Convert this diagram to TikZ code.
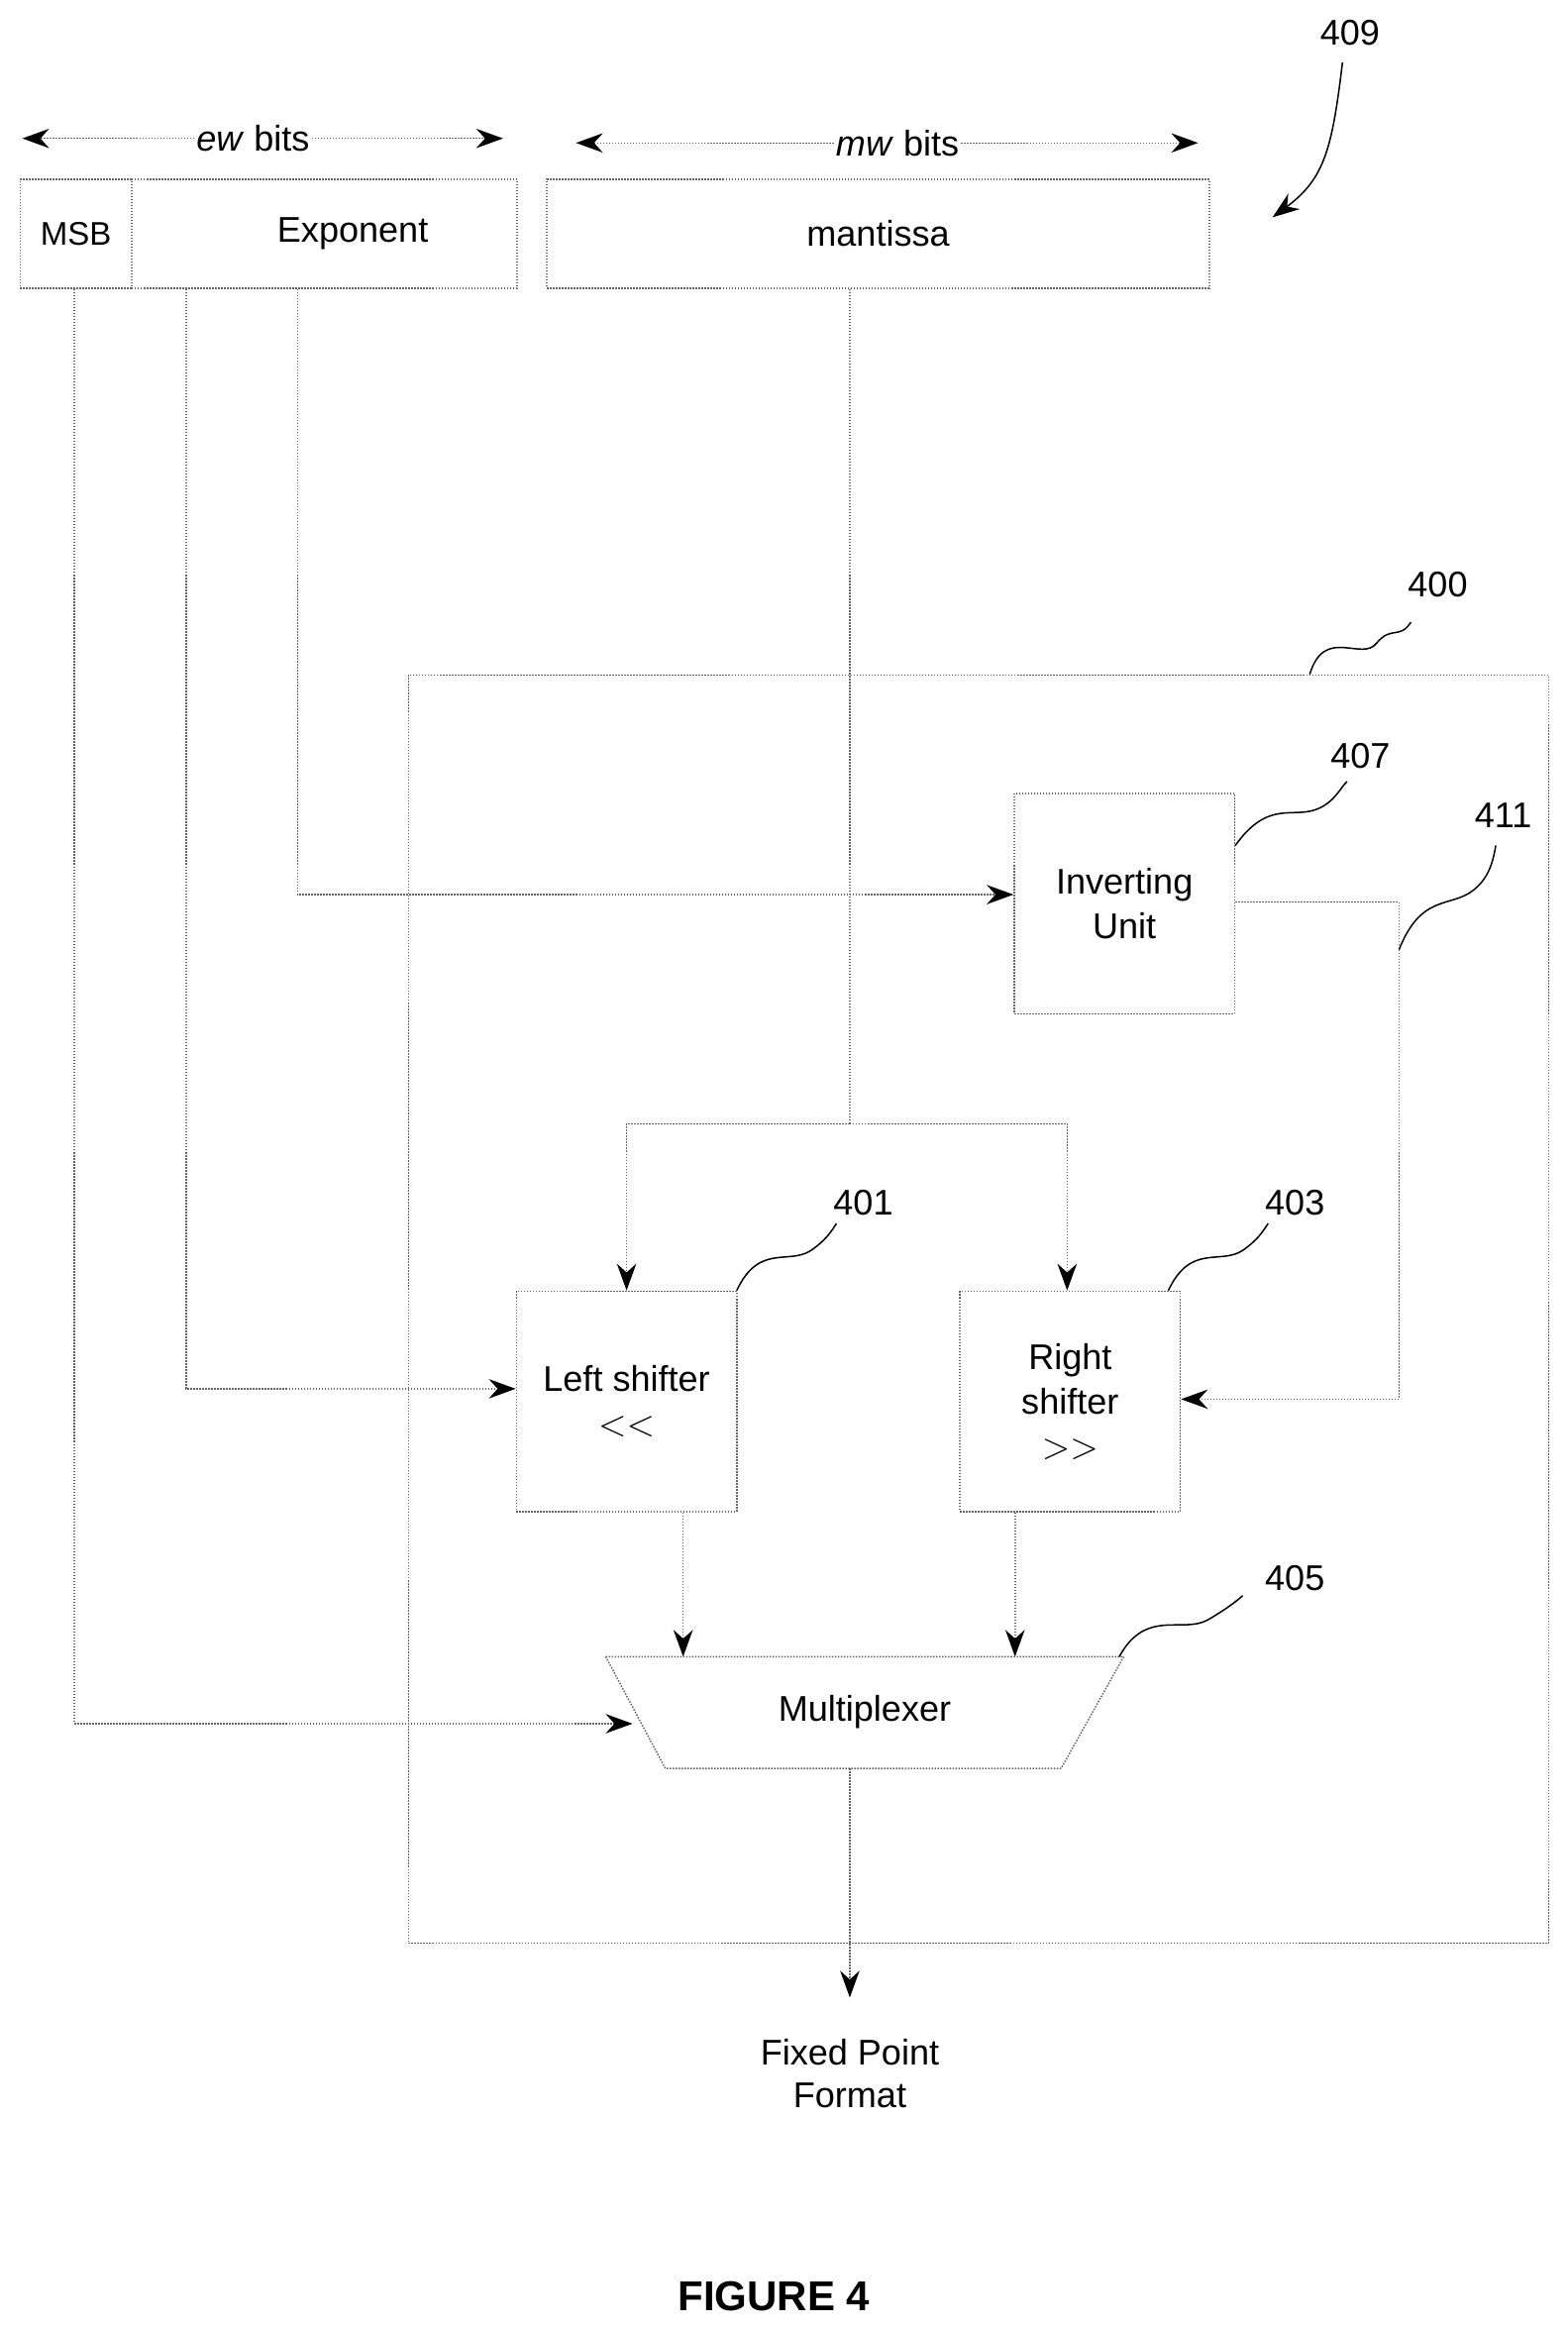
\documentclass[tikz,border=0pt]{standalone}
\usepackage{fontspec}
\setmainfont{Liberation Sans}
\usetikzlibrary{arrows.meta}
\tikzset{every picture/.style={line width=1pt}}
\tikzset{
  dot/.style={draw=black!60, densely dotted},
  blk/.style={dot, minimum width=148pt, minimum height=148pt, align=center, font=\fontsize{24}{30}\selectfont},
  arr/.style={dot, -{Stealth[length=18pt,width=13pt,black]}},
  wave/.style={draw=black, line width=1pt},
  lbl/.style={font=\fontsize{24}{28}\selectfont}
}
\begin{document}
\begin{tikzpicture}[x=1pt,y=1pt,yscale=-1]
\useasboundingbox (0,0) rectangle (1053,1564);

%bit fields
\node[dot, minimum width=75pt, minimum height=73pt, anchor=north west, font=\fontsize{22}{26}\selectfont] (msb) at (13,120) {MSB};
\node[dot, minimum width=259pt, minimum height=73pt, anchor=north west] (exp) at (88,120) {};
\node[lbl] (expt) at (237,157) {Exponent};
\node[dot, minimum width=445pt, minimum height=73pt, anchor=north west, lbl] (man) at (367,120) {mantissa};
\coordinate (ewl) at (15,93); \coordinate (ewr) at (338,93);
\coordinate (mwl) at (387,96); \coordinate (mwr) at (805,96);
\node[lbl, fill=white, inner sep=1pt] (ew) at (170,93) {\textit{ew} bits};
\node[lbl, fill=white, inner sep=1pt] (mw) at (603,96) {\textit{mw} bits};
\draw[arr] (ew) -- (ewl); \draw[arr] (ew) -- (ewr);
\draw[arr] (mw) -- (mwl); \draw[arr] (mw) -- (mwr);

%reference numerals
\node[lbl] (n409) at (907,22) {409};
\coordinate (t409) at (855,146);
\draw[wave, -{Stealth[length=18pt,width=13pt]}] (902,42) .. controls (895,100) and (890,120) .. (t409);

%converter block 400
\node[dot, minimum width=766pt, minimum height=852pt, anchor=north west] (conv) at (274,453) {};
\node[lbl] (n400) at (966,393) {400};
\draw[wave] (880,453) .. controls (890,420) and (915,445) .. (925,432) .. controls (935,420) and (940,430) .. (948,418);

%units
\node[blk] (inv) at (755.5,607) {Inverting\\Unit};
\node[blk] (lsh) at (421,941.5) {Left shifter\\$<<$};
\node[blk] (rsh) at (719,941.5) {Right\\shifter\\$>>$};
\draw[dot] (407,1113) -- (755,1113) -- (713,1188) -- (447,1188) -- cycle;
\node[lbl] (mux) at (581,1150) {Multiplexer};
\node[lbl, align=center] (out) at (571,1393) {Fixed Point\\Format};
\node[font=\bfseries\fontsize{28}{32}\selectfont] (fig) at (520,1543) {FIGURE 4};

\node[lbl] (n407) at (914,508) {407};
\draw[wave] (830,568) .. controls (850,540) and (865,548) .. (880,545) .. controls (895,542) and (900,530) .. (905,525);
\node[lbl] (n411) at (1010,548) {411};
\draw[wave] (940,638) .. controls (955,600) and (975,610) .. (990,598) .. controls (1000,590) and (1003,580) .. (1005,568);
\node[lbl] (n401) at (580,808) {401};
\draw[wave] (495,867) .. controls (510,835) and (530,850) .. (545,840) .. controls (555,833) and (558,828) .. (562,822);
\node[lbl] (n403) at (870,808) {403};
\draw[wave] (785,867) .. controls (800,835) and (820,850) .. (835,840) .. controls (845,833) and (848,828) .. (852,822);
\node[lbl] (n405) at (870,1060) {405};
\draw[wave] (752,1113) .. controls (770,1080) and (795,1098) .. (812,1088) .. controls (822,1082) and (828,1078) .. (835,1072);

%connections
\coordinate (split) at (571,755);
\draw[dot] (man.south -| split) -- (split);
\draw[arr] (split) -| (lsh.north);
\draw[arr] (split) -| (rsh.north -| 717,0);
\draw[arr] (exp.south -| 200,0) |- (inv.west |- 0,601);
\draw[arr] (exp.south -| 125,0) |- (lsh.west |- 0,933);
\draw[arr] (msb.south -| 50,0) |- (425,1158);
\draw[arr] (inv.east |- 0,606) -| (940,940) -- (rsh.east |- 0,940);
\draw[arr] (lsh.south -| 459,0) -- (459,1113);
\draw[arr] (rsh.south -| 682,0) -- (682,1113);
\draw[arr] (571,1188) -- (571,1342);
\end{tikzpicture}
\end{document}
